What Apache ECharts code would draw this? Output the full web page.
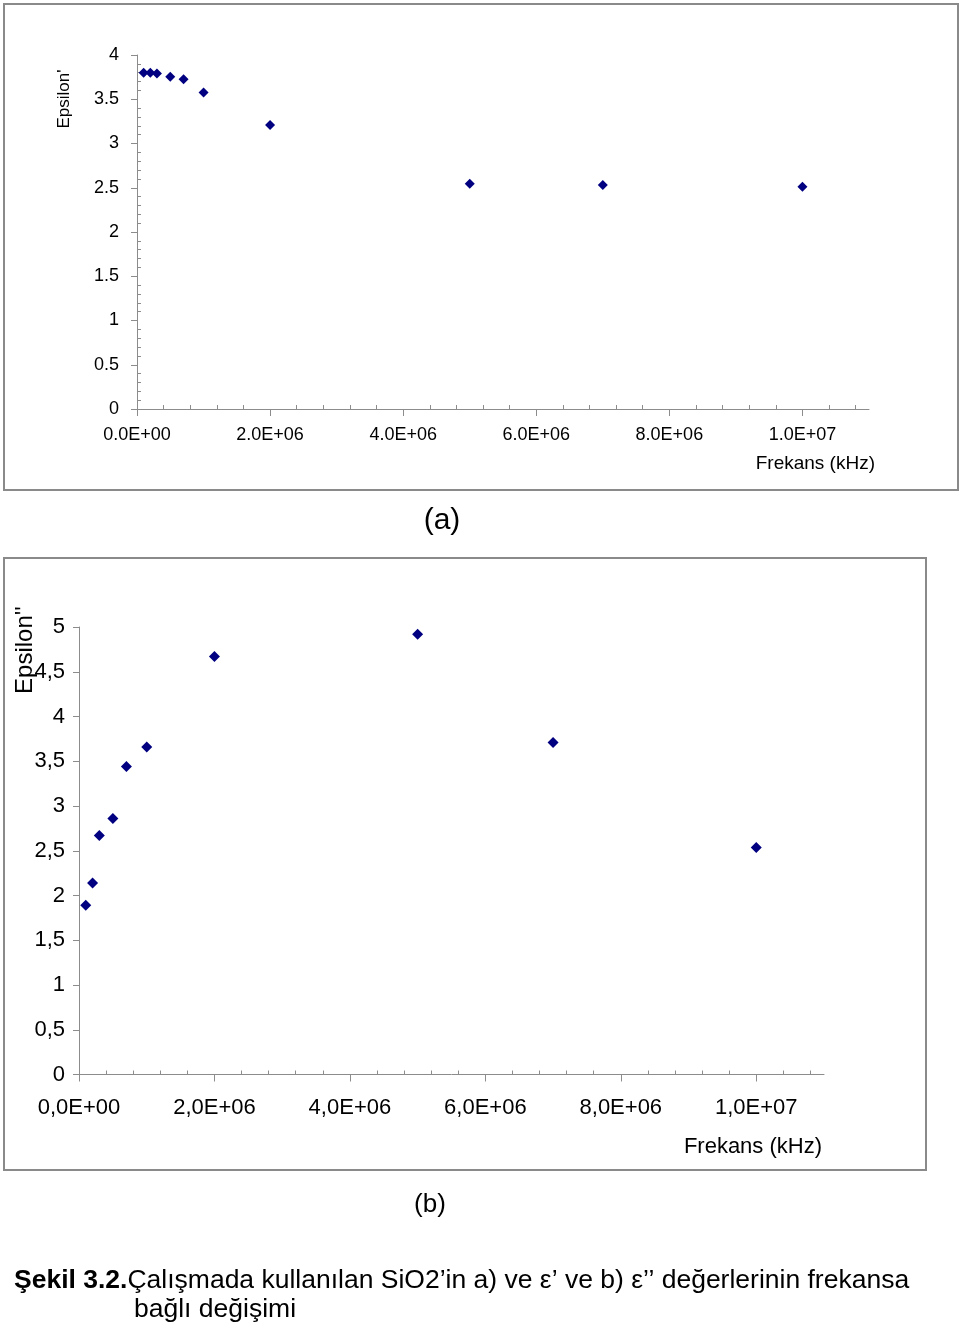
<!DOCTYPE html>
<html>
<head>
<meta charset="utf-8">
<script src="https://cdn.jsdelivr.net/npm/echarts@6/dist/echarts.min.js"></script>
<style>
html,body{margin:0;padding:0;background:#fff;}
#chart{width:960px;height:1326px;}
</style>
</head>
<body>
<div id="chart"></div>
<script>
// ---- Data ----
const freqA = [1e5, 2e5, 3e5, 5e5, 7e5, 1e6, 2e6, 5e6, 7e6, 1e7];
const epsPrime = [3.80, 3.80, 3.79, 3.755, 3.725, 3.575, 3.21, 2.545, 2.53, 2.51];
const freqB = [1e5, 2e5, 3e5, 5e5, 7e5, 1e6, 2e6, 5e6, 7e6, 1e7];
const epsDoublePrime = [1.89, 2.14, 2.67, 2.86, 3.44, 3.66, 4.67, 4.92, 3.71, 2.535];
const xTickLabelsA = ['0.0E+00', '2.0E+06', '4.0E+06', '6.0E+06', '8.0E+06', '1.0E+07'];
const yTickLabelsA = ['0', '0.5', '1', '1.5', '2', '2.5', '3', '3.5', '4'];
const xTickLabelsB = ['0,0E+00', '2,0E+06', '4,0E+06', '6,0E+06', '8,0E+06', '1,0E+07'];
const yTickLabelsB = ['0', '0,5', '1', '1,5', '2', '2,5', '3', '3,5', '4', '4,5', '5'];
const yTitleA = "Epsilon'";
const yTitleB = "Epsilon''";
const xTitle = 'Frekans (kHz)';
const panelA = '(a)';
const panelB = '(b)';
const captionBold = 'Şekil 3.2.';
const captionLine1 = 'Çalışmada kullanılan SiO2’in a) ve ε’ ve b) ε’’ değerlerinin frekansa';
const captionLine2 = 'bağlı değişimi';

const X_STEP = 2e6;
const AXIS_COLOR = '#8c8c8c';
const MARK_COLOR = '#000080';
const FONT = '"Liberation Sans", Arial, sans-serif';

function pick(labels, step) {
  return function (v) {
    const i = Math.round(v / step);
    return labels[i] !== undefined ? labels[i] : '';
  };
}
const majorTicksA = xTickLabelsA.map((_, i) => i * X_STEP);
const majorTicksB = xTickLabelsB.map((_, i) => i * X_STEP);

const chart = echarts.init(document.getElementById('chart'), null, {renderer: 'canvas'});

const baseX = {
  type: 'value', min: 0, max: 1.1e7, interval: X_STEP, position: 'bottom',
  splitLine: {show: false},
  axisLine: {onZero: false, lineStyle: {color: AXIS_COLOR, width: 1}}
};

const option = {
  animation: false,
  backgroundColor: '#fff',
  grid: [
    {left: 137, top: 55, width: 732, height: 354, containLabel: false},
    {left: 79, top: 627, width: 745, height: 447.5, containLabel: false}
  ],
  xAxis: [
    Object.assign({}, baseX, {
      gridIndex: 0,
      axisTick: {show: true, length: 7, customValues: majorTicksA, lineStyle: {color: AXIS_COLOR}},
      axisLabel: {formatter: pick(xTickLabelsA, X_STEP), customValues: majorTicksA, margin: 17, color: '#000', fontSize: 18, fontFamily: FONT},
      minorTick: {show: false}
    }),
    Object.assign({}, baseX, {
      gridIndex: 0,
      axisLine: {show: false},
      axisTick: {show: false, inside: true},
      axisLabel: {show: false},
      minorTick: {show: true, splitNumber: 5, length: 4, lineStyle: {color: AXIS_COLOR}}
    }),
    Object.assign({}, baseX, {
      gridIndex: 1,
      axisTick: {show: true, length: 7, customValues: majorTicksB, lineStyle: {color: AXIS_COLOR}},
      axisLabel: {formatter: pick(xTickLabelsB, X_STEP), customValues: majorTicksB, margin: 22, color: '#000', fontSize: 22, fontFamily: FONT},
      minorTick: {show: false}
    }),
    Object.assign({}, baseX, {
      gridIndex: 1,
      axisLine: {show: false},
      axisTick: {show: false, inside: true},
      axisLabel: {show: false},
      minorTick: {show: true, splitNumber: 5, length: 4, lineStyle: {color: AXIS_COLOR}}
    })
  ],
  yAxis: [
    {
      type: 'value', gridIndex: 0, min: 0, max: 4, interval: 0.5, position: 'left',
      splitLine: {show: false},
      axisLine: {show: true, onZero: false, lineStyle: {color: AXIS_COLOR}},
      axisTick: {show: true, length: 6, lineStyle: {color: AXIS_COLOR}},
      axisLabel: {formatter: pick(yTickLabelsA, 0.5), margin: 18, color: '#000', fontSize: 18, fontFamily: FONT}
    },
    {
      type: 'value', gridIndex: 0, min: 0, max: 4, interval: 0.5, position: 'left',
      splitLine: {show: false},
      axisLine: {show: false},
      axisTick: {show: false, inside: true},
      axisLabel: {show: false},
      minorTick: {show: true, splitNumber: 5, length: 4, lineStyle: {color: AXIS_COLOR}}
    },
    {
      type: 'value', gridIndex: 1, min: 0, max: 5, interval: 0.5, position: 'left',
      splitLine: {show: false},
      axisLine: {show: true, onZero: false, lineStyle: {color: AXIS_COLOR}},
      axisTick: {show: true, length: 6, lineStyle: {color: AXIS_COLOR}},
      axisLabel: {formatter: pick(yTickLabelsB, 0.5), margin: 14, color: '#000', fontSize: 22, fontFamily: FONT}
    }
  ],
  series: [
    {
      type: 'scatter', xAxisIndex: 0, yAxisIndex: 0,
      symbol: 'diamond', symbolSize: [10, 10],
      itemStyle: {color: MARK_COLOR, opacity: 1},
      data: freqA.map((f, i) => [f, epsPrime[i]])
    },
    {
      type: 'scatter', xAxisIndex: 2, yAxisIndex: 2,
      symbol: 'diamond', symbolSize: [11, 11],
      itemStyle: {color: MARK_COLOR, opacity: 1},
      data: freqB.map((f, i) => [f, epsDoublePrime[i]])
    }
  ],
  graphic: [
    {type: 'rect', shape: {x: 4, y: 4, width: 954, height: 486}, style: {fill: 'none', stroke: '#8a8a8a', lineWidth: 2}, z: 0},
    {type: 'rect', shape: {x: 4, y: 558, width: 922, height: 612}, style: {fill: 'none', stroke: '#8a8a8a', lineWidth: 2}, z: 0},
    {type: 'text', x: 64, y: 99, rotation: Math.PI / 2,
      style: {text: yTitleA, font: '17px ' + FONT, fill: '#000', align: 'center', verticalAlign: 'middle'}},
    {type: 'text', x: 875, y: 464,
      style: {text: xTitle, font: '19px ' + FONT, fill: '#000', align: 'right', verticalAlign: 'middle'}},
    {type: 'text', x: 442, y: 521,
      style: {text: panelA, font: '30px ' + FONT, fill: '#000', align: 'center', verticalAlign: 'middle'}},
    {type: 'text', x: 25, y: 650, rotation: Math.PI / 2,
      style: {text: yTitleB, font: '24px ' + FONT, fill: '#000', align: 'center', verticalAlign: 'middle'}},
    {type: 'text', x: 822, y: 1147,
      style: {text: xTitle, font: '22px ' + FONT, fill: '#000', align: 'right', verticalAlign: 'middle'}},
    {type: 'text', x: 430, y: 1205,
      style: {text: panelB, font: '26px ' + FONT, fill: '#000', align: 'center', verticalAlign: 'middle'}},
    {type: 'text', x: 14, y: 1281,
      style: {text: '{b|' + captionBold + '}' + captionLine1, font: '26.5px ' + FONT, fill: '#000', align: 'left', verticalAlign: 'middle',
        rich: {b: {fontWeight: 'bold', fontSize: 26.5, fontFamily: FONT}}}},
    {type: 'text', x: 134, y: 1310,
      style: {text: captionLine2, font: '26.5px ' + FONT, fill: '#000', align: 'left', verticalAlign: 'middle'}}
  ]
};
chart.setOption(option);
</script>
</body>
</html>
